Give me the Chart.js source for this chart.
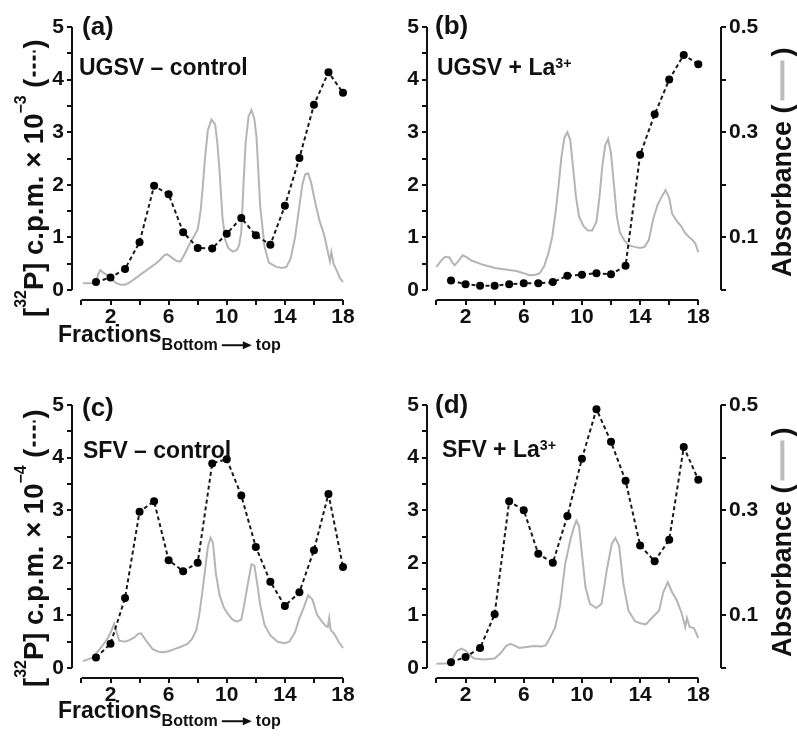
<!DOCTYPE html>
<html>
<head>
<meta charset="utf-8">
<script src="https://cdn.jsdelivr.net/npm/chart.js@4.4.0/dist/chart.umd.min.js"></script>
<style>
body { margin: 0; background: #fff; width: 797px; height: 736px; overflow: hidden; position: relative; }
canvas { position: absolute; }
</style>
</head>
<body>
<canvas id="pa" width="400" height="370" style="left:0;top:0"></canvas>
<canvas id="pb" width="397" height="370" style="left:400px;top:0"></canvas>
<canvas id="pc" width="400" height="366" style="left:0;top:370px"></canvas>
<canvas id="pd" width="397" height="366" style="left:400px;top:370px"></canvas>
<script>
// fractions collected, bottom -> top
const fractions = [1, 2, 3, 4, 5, 6, 7, 8, 9, 10, 11, 12, 13, 14, 15, 16, 17, 18];

// [32P] c.p.m. (x10^-3 for a/b, x10^-4 for c/d)
const cpmA = [0.15, 0.24, 0.40, 0.91, 1.98, 1.82, 1.10, 0.80, 0.79, 1.07, 1.37, 1.04, 0.86, 1.60, 2.51, 3.52, 4.14, 3.75];
const cpmB = [0.18, 0.11, 0.08, 0.08, 0.11, 0.13, 0.13, 0.15, 0.27, 0.29, 0.32, 0.30, 0.46, 2.57, 3.34, 4.00, 4.47, 4.29];
const cpmC = [0.20, 0.46, 1.33, 2.97, 3.17, 2.05, 1.84, 2.00, 3.89, 3.97, 3.28, 2.30, 1.64, 1.18, 1.44, 2.24, 3.31, 1.92];
const cpmD = [0.11, 0.21, 0.38, 1.02, 3.17, 3.00, 2.17, 2.00, 2.89, 3.98, 4.92, 4.30, 3.56, 2.33, 2.03, 2.44, 4.20, 3.58];

// absorbance traces (position along gradient, absorbance)
const absAx = [0.1, 0.6, 1.0, 1.15, 1.3, 1.5, 1.8, 2.1, 2.4, 2.7, 3.0, 3.3, 3.6, 3.9, 4.2, 4.5, 4.8, 5.1, 5.4, 5.7, 5.9, 6.2, 6.5, 6.8, 7.1, 7.4, 7.7, 8.0, 8.2, 8.35, 8.5, 8.7, 8.95, 9.2, 9.35, 9.5, 9.7, 9.9, 10.1, 10.4, 10.7, 10.85, 11.0, 11.15, 11.3, 11.5, 11.7, 11.9, 12.05, 12.3, 12.6, 12.9, 13.4, 13.8, 14.1, 14.4, 14.7, 15.0, 15.2, 15.4, 15.6, 15.8, 16.1, 16.4, 16.7, 16.9, 17.1, 17.2, 17.35, 17.6, 17.8, 18.0];
const absA = [.013, .013, .014, .030, .038, .033, .028, .020, .013, .010, .010, .014, .020, .026, .032, .038, .044, .050, .057, .066, .068, .062, .056, .054, .068, .085, .100, .115, .150, .196, .250, .304, .324, .315, .280, .228, .140, .095, .080, .073, .076, .085, .110, .200, .280, .330, .342, .325, .290, .160, .082, .052, .044, .042, .044, .060, .100, .160, .200, .220, .222, .205, .165, .130, .105, .080, .055, .072, .050, .035, .022, .015];

const absBx = [0.0, 0.3, 0.6, 0.9, 1.1, 1.25, 1.5, 1.8, 2.1, 2.4, 2.8, 3.2, 3.6, 4.0, 4.5, 5.0, 5.5, 6.0, 6.4, 6.8, 7.1, 7.4, 7.7, 7.95, 8.2, 8.4, 8.6, 8.8, 9.0, 9.2, 9.4, 9.6, 9.8, 10.1, 10.4, 10.7, 11.0, 11.2, 11.4, 11.6, 11.8, 12.0, 12.2, 12.4, 12.6, 12.9, 13.2, 13.6, 14.0, 14.3, 14.6, 14.9, 15.2, 15.5, 15.75, 16.0, 16.2, 16.5, 16.8, 17.1, 17.4, 17.6, 17.8, 18.0];
const absB = [.044, .055, .063, .062, .052, .047, .055, .066, .062, .056, .052, .048, .045, .042, .040, .038, .036, .032, .028, .029, .032, .045, .070, .100, .150, .200, .255, .290, .300, .285, .230, .175, .140, .122, .113, .113, .130, .175, .235, .275, .287, .260, .200, .140, .110, .095, .085, .082, .080, .082, .095, .135, .162, .178, .190, .175, .145, .132, .122, .108, .100, .095, .088, .072];

const absCx = [0.1, 0.8, 1.35, 1.8, 2.05, 2.25, 2.4, 2.6, 3.0, 3.3, 3.65, 3.9, 4.1, 4.3, 4.5, 4.9, 5.3, 5.6, 6.0, 6.4, 6.8, 7.3, 7.6, 7.9, 8.1, 8.3, 8.5, 8.7, 8.88, 9.05, 9.25, 9.5, 9.8, 10.1, 10.4, 10.7, 11.0, 11.2, 11.45, 11.7, 11.9, 12.1, 12.3, 12.6, 13.0, 13.5, 14.0, 14.3, 14.7, 15.0, 15.3, 15.6, 15.9, 16.2, 16.5, 16.8, 16.95, 17.05, 17.15, 17.4, 17.7, 18.0];
const absC = [.013, .020, .039, .056, .070, .084, .070, .052, .050, .053, .058, .065, .066, .058, .050, .036, .031, .030, .032, .036, .040, .046, .055, .072, .100, .140, .185, .230, .248, .238, .180, .139, .115, .102, .092, .088, .092, .120, .160, .197, .195, .160, .120, .082, .062, .050, .047, .050, .068, .095, .115, .138, .130, .102, .090, .080, .078, .095, .072, .065, .050, .038];

const absDx = [0.0, 0.9, 1.2, 1.4, 1.7, 2.0, 2.3, 2.6, 3.3, 4.0, 4.4, 4.8, 5.1, 5.4, 5.7, 6.2, 6.7, 7.2, 7.5, 7.8, 8.15, 8.5, 8.85, 9.2, 9.45, 9.62, 9.8, 10.0, 10.25, 10.55, 11.0, 11.35, 11.7, 12.05, 12.3, 12.55, 12.85, 13.2, 13.65, 14.0, 14.4, 14.8, 15.3, 15.6, 15.9, 16.2, 16.5, 16.85, 17.1, 17.22, 17.4, 17.7, 18.0];
const absD = [.008, .009, .022, .032, .037, .033, .024, .018, .016, .018, .028, .042, .046, .042, .038, .040, .042, .041, .043, .057, .076, .120, .198, .243, .268, .280, .270, .217, .153, .122, .114, .122, .185, .236, .247, .233, .160, .109, .089, .085, .083, .095, .109, .145, .163, .144, .130, .105, .078, .095, .078, .076, .057];

// axis ticks
const xTicks = [0, 2, 4, 6, 8, 10, 12, 14, 16, 18];
const xTickLabels = [2, 6, 10, 14, 18];
const yTicks = [0, 0.5, 1, 1.5, 2, 2.5, 3, 3.5, 4, 4.5, 5];
const yTickLabels = [0, 1, 2, 3, 4, 5];
const absTicks = [0, 0.1, 0.2, 0.3, 0.4, 0.5];
const absTickLabels = [0.1, 0.3, 0.5];

const FONT = '"Liberation Sans", Arial, sans-serif';
Chart.defaults.font.family = FONT;
Chart.defaults.color = '#111';

// draws a row of text pieces (superscripts, dashed/grey keys, arrow)
function drawRuns(ctx, runs, x, y, size) {
    let cx = x;
    for (const r of runs) {
        const fs = size * (r.s || 1);
        const by = y + (r.dy || 0) * size;
        if (r.t) {
            ctx.font = 'bold ' + fs + 'px ' + FONT;
            ctx.fillText(r.t, cx, by);
            cx += ctx.measureText(r.t).width;
        } else if (r.gap) {
            cx += r.gap;
        } else if (r.dash) {
            ctx.save();
            ctx.strokeStyle = '#111';
            ctx.lineWidth = 3;
            ctx.setLineDash([5, 3]);
            ctx.beginPath();
            ctx.moveTo(cx, by - 0.32 * size);
            ctx.lineTo(cx + r.dash, by - 0.32 * size);
            ctx.stroke();
            ctx.restore();
            cx += r.dash;
        } else if (r.bar) {
            ctx.save();
            ctx.strokeStyle = '#bdbdbd';
            ctx.lineWidth = 4;
            ctx.beginPath();
            ctx.moveTo(cx, by - 0.32 * size);
            ctx.lineTo(cx + r.bar, by - 0.32 * size);
            ctx.stroke();
            ctx.restore();
            cx += r.bar;
        } else if (r.arrow) {
            const ay = by - 0.3 * fs;
            ctx.save();
            ctx.strokeStyle = '#111';
            ctx.lineWidth = 2;
            ctx.beginPath();
            ctx.moveTo(cx, ay);
            ctx.lineTo(cx + r.arrow - 6, ay);
            ctx.stroke();
            ctx.beginPath();
            ctx.moveTo(cx + r.arrow, ay);
            ctx.lineTo(cx + r.arrow - 9, ay - 4);
            ctx.lineTo(cx + r.arrow - 9, ay + 4);
            ctx.closePath();
            ctx.fill();
            ctx.restore();
            cx += r.arrow;
        }
    }
}

const axisLines = {
    id: 'axisLines',
    afterDraw(chart, args, o) {
        const {ctx, chartArea: a, scales} = chart;
        ctx.save();
        ctx.strokeStyle = '#111';
        ctx.lineWidth = 2;
        ctx.beginPath();
        ctx.moveTo(a.left, scales.y.getPixelForValue(yTicks[0]));
        ctx.lineTo(a.left, scales.y.getPixelForValue(yTicks[yTicks.length - 1]));
        ctx.moveTo(scales.x.getPixelForValue(xTicks[0]), a.bottom);
        ctx.lineTo(scales.x.getPixelForValue(xTicks[xTicks.length - 1]), a.bottom);
        if (o.right) {
            ctx.moveTo(a.right, scales.y2.getPixelForValue(absTicks[0]));
            ctx.lineTo(a.right, scales.y2.getPixelForValue(absTicks[absTicks.length - 1]));
        }
        ctx.stroke();
        ctx.restore();
    }
};

const panelText = {
    id: 'panelText',
    afterDraw(chart, args, o) {
        const ctx = chart.ctx;
        ctx.save();
        ctx.fillStyle = '#111';
        ctx.textBaseline = 'alphabetic';
        ctx.textAlign = 'left';
        drawRuns(ctx, [{t: o.tag}], o.tagPos[0], o.tagPos[1], 26);
        drawRuns(ctx, o.sub, o.subPos[0], o.subPos[1], 23);
        if (o.yTitle) {
            ctx.save();
            ctx.translate(o.yTitlePos[0], o.yTitlePos[1]);
            ctx.rotate(-Math.PI / 2);
            drawRuns(ctx, [
                {t: '['}, {t: '32', s: 0.58, dy: -0.62}, {t: 'P] c.p.m. \u00d7 10'},
                {t: '\u2212' + o.yTitle, s: 0.58, dy: -0.62},
                {t: ' ('}, {gap: 2}, {dash: 26}, {gap: 2}, {t: ')'}
            ], 0, 0, 27.5);
            ctx.restore();
        }
        if (o.fracPos) {
            drawRuns(ctx, [
                {t: 'Fractions'}, {t: 'Bottom', s: 0.7, dy: 0.35}, {gap: 4},
                {arrow: 30, s: 0.7, dy: 0.35}, {gap: 4}, {t: 'top', s: 0.7, dy: 0.35}
            ], o.fracPos[0], o.fracPos[1], 23);
        }
        if (o.absPos) {
            ctx.save();
            ctx.translate(o.absPos[0], o.absPos[1]);
            ctx.rotate(-Math.PI / 2);
            drawRuns(ctx, [{t: 'Absorbance ('}, {gap: 4}, {bar: 40}, {gap: 4}, {t: ')'}], 0, 0, 27);
            ctx.restore();
        }
        ctx.restore();
    }
};

const tickFont = {size: 21, weight: 'bold'};

function makePanel(id, o) {
    const cpmPoints = fractions.map((f, i) => ({x: f, y: o.cpm[i]}));
    const absPoints = o.absX.map((f, i) => ({x: f, y: o.abs[i]}));
    new Chart(document.getElementById(id), {
        type: 'line',
        data: {
            datasets: [{
                data: cpmPoints,
                yAxisID: 'y',
                borderColor: '#1a1a1a',
                borderWidth: 2,
                borderDash: [4, 3],
                pointRadius: 4,
                pointBackgroundColor: '#000',
                pointBorderColor: '#000',
                pointBorderWidth: 0,
                clip: false
            },
            {
                data: absPoints,
                yAxisID: 'y2',
                borderColor: '#b5b5b5',
                borderWidth: 2,
                pointRadius: 0,
                clip: false
            }]
        },
        options: {
            responsive: false,
            animation: false,
            events: [],
            layout: {padding: {left: 0, top: o.top, right: o.padRight, bottom: 0}},
            plugins: {
                legend: {display: false},
                tooltip: {enabled: false},
                axisLines: {right: o.right},
                panelText: o.text
            },
            scales: {
                x: {
                    type: 'linear',
                    min: -0.65,
                    max: o.xMax,
                    afterBuildTicks: s => { s.ticks = xTicks.map(v => ({value: v})); },
                    afterFit: s => { s.height = o.xH; },
                    border: {display: false},
                    grid: {drawOnChartArea: false, color: '#111', lineWidth: 2, tickLength: 5},
                    ticks: {
                        autoSkip: false, maxRotation: 0, padding: 0, font: tickFont, color: '#111',
                        callback: v => xTickLabels.includes(v) ? String(v) : ''
                    }
                },
                y: {
                    min: -0.19,
                    max: 5,
                    afterBuildTicks: s => { s.ticks = yTicks.map(v => ({value: v})); },
                    afterFit: s => { s.width = o.yW; },
                    border: {display: false},
                    grid: {drawOnChartArea: false, color: '#111', lineWidth: 2, tickLength: 5},
                    ticks: {
                        autoSkip: false, padding: 3, font: tickFont, color: '#111',
                        callback: v => yTickLabels.includes(v) ? String(v) : ''
                    }
                },
                y2: {
                    position: 'right',
                    display: o.right,
                    min: -0.019,
                    max: 0.5,
                    afterBuildTicks: s => { s.ticks = absTicks.map(v => ({value: v})); },
                    afterFit: s => { s.width = o.right ? 76 : 0; },
                    border: {display: false},
                    grid: {drawOnChartArea: false, color: '#111', lineWidth: 2, tickLength: 5},
                    ticks: {
                        autoSkip: false, padding: 3, font: tickFont, color: '#111',
                        callback: v => absTickLabels.includes(v) ? v.toFixed(1) : ''
                    }
                }
            }
        },
        plugins: [axisLines, panelText]
    });
}

makePanel('pa', {
    cpm: cpmA, absX: absAx, abs: absA,
    top: 27, xH: 70, yW: 72, padRight: 57, xMax: 18, right: false,
    text: {
        tag: '(a)', tagPos: [82, 35],
        sub: [{t: 'UGSV \u2013 control'}], subPos: [79, 75],
        yTitle: '3', yTitlePos: [43, 317],
        fracPos: [58, 342]
    }
});
makePanel('pb', {
    cpm: cpmB, absX: absBx, abs: absB,
    top: 27, xH: 70, yW: 27, padRight: 0, xMax: 19.56, right: true,
    text: {
        tag: '(b)', tagPos: [35, 34],
        sub: [{t: 'UGSV + La'}, {t: '3+', s: 0.62, dy: -0.3}], subPos: [37, 75],
        absPos: [391, 277]
    }
});
makePanel('pc', {
    cpm: cpmC, absX: absCx, abs: absC,
    top: 35, xH: 58, yW: 72, padRight: 57, xMax: 18, right: false,
    text: {
        tag: '(c)', tagPos: [82, 46],
        sub: [{t: 'SFV \u2013 control'}], subPos: [83, 88],
        yTitle: '4', yTitlePos: [43, 317],
        fracPos: [58, 348]
    }
});
makePanel('pd', {
    cpm: cpmD, absX: absDx, abs: absD,
    top: 35, xH: 58, yW: 27, padRight: 0, xMax: 19.56, right: true,
    text: {
        tag: '(d)', tagPos: [35, 43],
        sub: [{t: 'SFV + La'}, {t: '3+', s: 0.62, dy: -0.3}], subPos: [42, 87],
        absPos: [391, 287]
    }
});
</script>
</body>
</html>
